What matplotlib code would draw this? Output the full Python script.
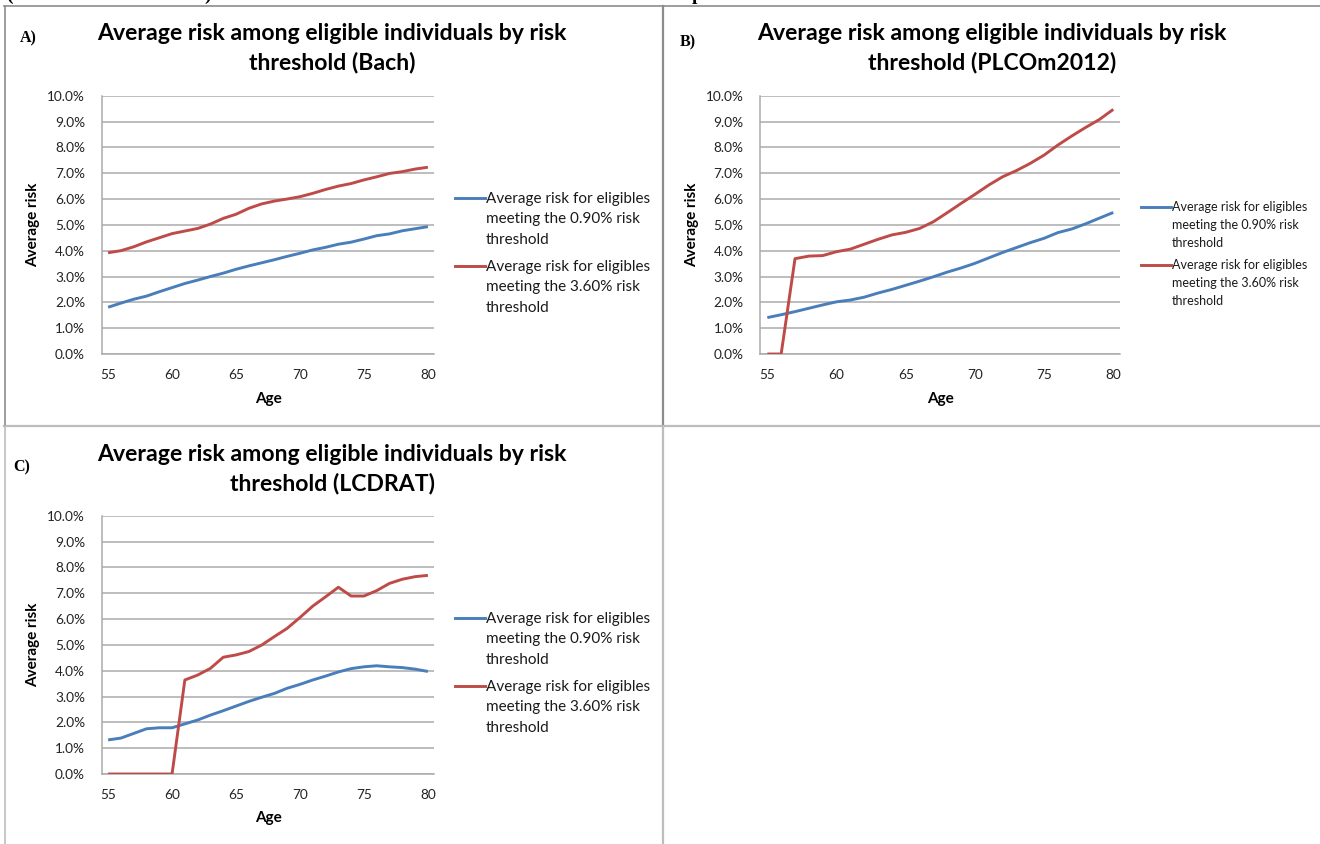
import matplotlib
matplotlib.use("Agg")
import matplotlib.pyplot as plt
from matplotlib.lines import Line2D
from matplotlib.ticker import FuncFormatter

# Ages on the horizontal axis
ages = list(range(55, 81))

# Panel A (Bach)
bach_090 = [1.81, 1.97, 2.12, 2.24, 2.41, 2.57, 2.73, 2.86, 3.00, 3.13, 3.28, 3.41, 3.53,
            3.65, 3.78, 3.90, 4.03, 4.13, 4.25, 4.33, 4.45, 4.58, 4.65, 4.77, 4.85, 4.93]
bach_360 = [3.92, 4.00, 4.15, 4.34, 4.50, 4.66, 4.76, 4.86, 5.03, 5.25, 5.41, 5.64, 5.81,
            5.92, 6.00, 6.09, 6.22, 6.37, 6.50, 6.60, 6.74, 6.86, 6.99, 7.06, 7.16, 7.23]

# Panel B (PLCOm2012)
plco_090 = [1.41, 1.52, 1.64, 1.77, 1.90, 2.02, 2.09, 2.20, 2.36, 2.50, 2.66, 2.82, 2.99,
            3.17, 3.33, 3.51, 3.72, 3.93, 4.12, 4.31, 4.48, 4.70, 4.84, 5.04, 5.26, 5.48]
plco_360 = [0.00, 0.00, 3.69, 3.79, 3.81, 3.96, 4.06, 4.25, 4.44, 4.61, 4.71, 4.86, 5.12,
            5.47, 5.83, 6.18, 6.54, 6.86, 7.10, 7.38, 7.70, 8.09, 8.44, 8.77, 9.08, 9.47]

# Panel C (LCDRAT)
lcdrat_090 = [1.32, 1.39, 1.57, 1.75, 1.79, 1.79, 1.94, 2.09, 2.28, 2.45, 2.63, 2.81, 2.97,
              3.12, 3.32, 3.47, 3.64, 3.79, 3.95, 4.08, 4.15, 4.19, 4.15, 4.12, 4.06, 3.97]
lcdrat_360 = [0.00, 0.00, 0.00, 0.00, 0.00, 0.00, 3.64, 3.83, 4.09, 4.52, 4.61, 4.74, 4.99,
              5.32, 5.64, 6.06, 6.50, 6.86, 7.23, 6.89, 6.89, 7.10, 7.38, 7.54, 7.64, 7.69]

series_labels = ["Average risk for eligibles\nmeeting the 0.90% risk\nthreshold",
                 "Average risk for eligibles\nmeeting the 3.60% risk\nthreshold"]
titles = ["Average risk among eligible individuals by risk\nthreshold (Bach)",
          "Average risk among eligible individuals by risk\nthreshold (PLCOm2012)",
          "Average risk among eligible individuals by risk\nthreshold (LCDRAT)"]
panel_tags = ["A)", "B)", "C)"]
yticks = list(range(0, 11))
xticks = [55, 60, 65, 70, 75, 80]

BLUE = "#4A7EBB"
RED = "#BE4B48"
GRID = "#ABABAB"
FONT = "Lato"

W, H = 1320, 844
fig = plt.figure(figsize=(W / 100, H / 100), dpi=100)
fig.patch.set_facecolor("white")


def fx(x):
    return x / W


def fy(y):
    return 1 - y / H


def hline(x0, x1, y, color, lw=1.2):
    fig.add_artist(Line2D([fx(x0), fx(x1)], [fy(y), fy(y)], transform=fig.transFigure,
                          color=color, lw=lw))


def vline(x, y0, y1, color, lw=1.2):
    fig.add_artist(Line2D([fx(x), fx(x)], [fy(y0), fy(y1)], transform=fig.transFigure,
                          color=color, lw=lw))


# table borders around the panels
hline(4, W, 6, "#8C8C8C")
hline(4, W, 426, "#BDBDBD", lw=1.6)
vline(4.5, 6, 426, "#8C8C8C")
vline(4.5, 426, H, "#BDBDBD")
vline(663, 6, 426, "#8C8C8C", lw=1.6)
vline(663, 426, H, "#BDBDBD", lw=1.6)

# caption line running above the figure edge
for gx, g in [(6, "("), (204, ")"), (692, "p")]:
    fig.text(fx(gx), fy(0), g, family="Liberation Serif", fontweight="bold",
             fontsize=14, ha="left", va="baseline", color="black")


def panel(box, y_090, y_360, title, tag, title_xy, tag_xy, ylab_x, xlab_y,
          legend_xy, legend_fs, legend_ls, legend_gap, text_drop):
    left, top, right, bottom = box
    ax = fig.add_axes([fx(left), fy(bottom), fx(right) - fx(left), (bottom - top) / H])
    ax.plot(ages, y_090, color=BLUE, lw=2.1, solid_capstyle="butt", zorder=3)
    ax.plot(ages, y_360, color=RED, lw=2.1, solid_capstyle="butt", zorder=3)
    ax.set_xlim(54.5, 80.5)
    ax.set_ylim(0, 10)
    ax.set_yticks(yticks)
    ax.set_xticks(xticks)
    ax.yaxis.set_major_formatter(FuncFormatter(lambda v, p: f"{v:.1f}%"))
    ax.grid(axis="y", color=GRID, lw=1.1)
    ax.set_axisbelow(True)
    for s in ["top", "right"]:
        ax.spines[s].set_visible(False)
    for s in ["left", "bottom"]:
        ax.spines[s].set_color(GRID)
        ax.spines[s].set_linewidth(1.1)
    ax.tick_params(axis="both", length=0, labelsize=9.8, colors="#222222")
    ax.tick_params(axis="y", pad=12)
    ax.tick_params(axis="x", pad=11)
    for t in ax.get_xticklabels() + ax.get_yticklabels():
        t.set_fontfamily(FONT)

    fig.text(fx(title_xy[0]), fy(title_xy[1]), title, ha="center", va="center",
             family=FONT, fontweight="bold", fontsize=16.6, linespacing=1.42, color="black")
    fig.text(fx(tag_xy[0]), fy(tag_xy[1]), tag, ha="left", va="center",
             family="Liberation Serif", fontweight="bold", fontsize=11.5, color="black")
    fig.text(fx(ylab_x), fy((top + bottom) / 2), "Average risk", rotation=90,
             ha="center", va="center", family=FONT, fontweight="bold", fontsize=11)
    fig.text(fx((left + right) / 2), fy(xlab_y), "Age", ha="center", va="center",
             family=FONT, fontweight="bold", fontsize=11)

    # legend: short line sample beside the first line of each wrapped label
    lx, ly = legend_xy
    for i, (lab, col) in enumerate(zip(series_labels, [BLUE, RED])):
        yy = ly + i * legend_gap
        hline(lx, lx + 30, yy, col, lw=2.1)
        fig.text(fx(lx + 31), fy(yy - legend_fs * 0.78 + text_drop), lab, ha="left",
                 va="top", family=FONT, fontsize=legend_fs, color="#1A1A1A",
                 linespacing=legend_ls)
    return ax


panel((101.7, 95.7, 434.3, 354), bach_090, bach_360, titles[0], panel_tags[0],
      (332, 48), (20, 38), 33, 399, (455, 198), 11, 1.55, 68, 3)
panel((760.4, 95.7, 1120.2, 354), plco_090, plco_360, titles[1], panel_tags[1],
      (992, 48), (680, 42), 692, 399, (1141, 207), 9, 1.6, 58, 1.5)
panel((101.7, 515.7, 434.3, 774), lcdrat_090, lcdrat_360, titles[2], panel_tags[2],
      (332, 469), (13, 467), 33, 818, (455, 618), 11, 1.55, 68, 3)

fig.savefig("out.png", dpi=100, facecolor="white")
